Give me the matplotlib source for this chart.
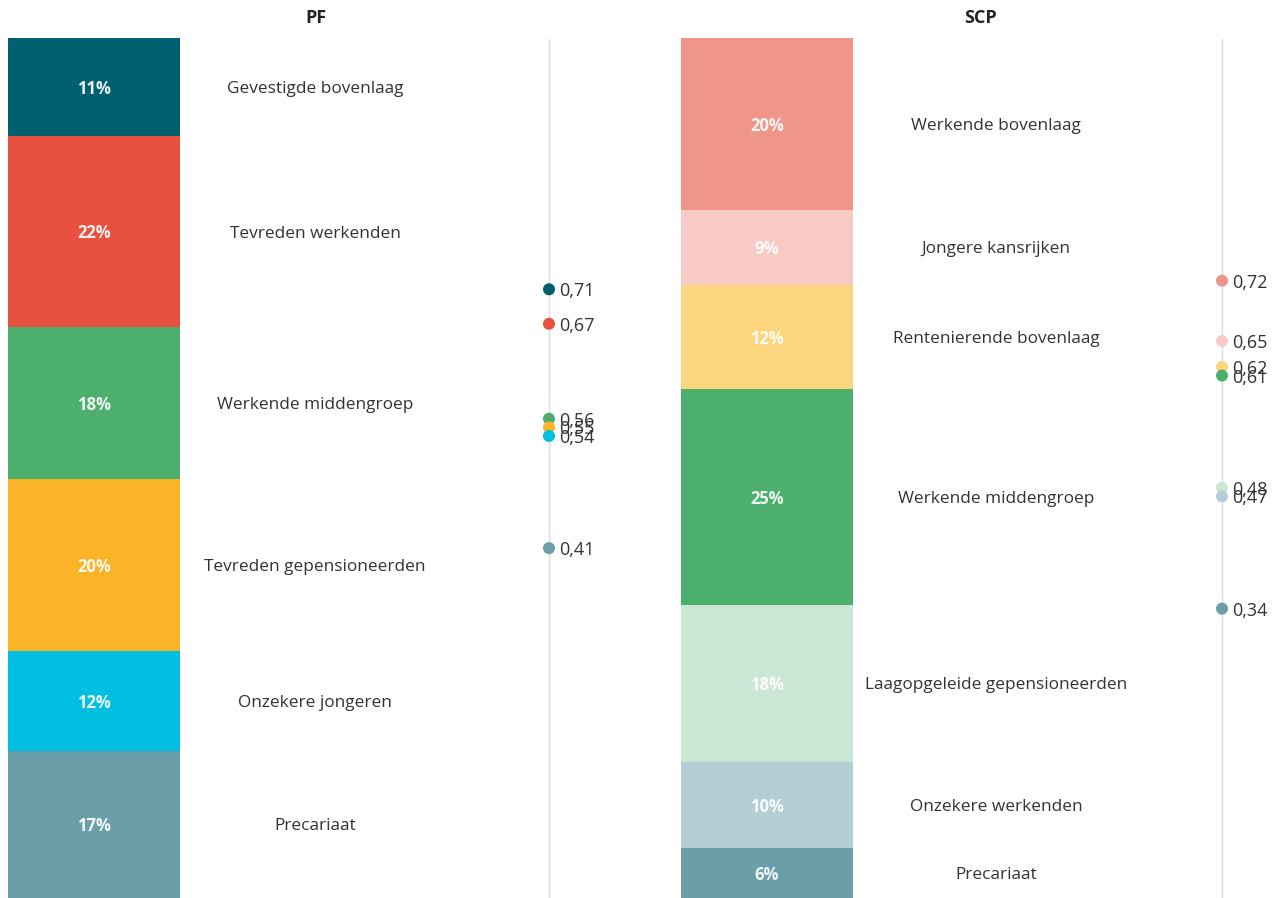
import matplotlib.pyplot as plt

plt.rcParams['font.family'] = ['Open Sans', 'DejaVu Sans']

# PF panel
pf_groups = ['Gevestigde bovenlaag', 'Tevreden werkenden', 'Werkende middengroep',
             'Tevreden gepensioneerden', 'Onzekere jongeren', 'Precariaat']
pf_share = [11.4, 22.2, 17.7, 20.0, 11.6, 17.1]
pf_score = [0.71, 0.67, 0.56, 0.55, 0.54, 0.41]
pf_colors = ['#00606f', '#e8503f', '#4caf6e', '#fbb427', '#00bfe0', '#6a9fa9']

# SCP panel
scp_groups = ['Werkende bovenlaag', 'Jongere kansrijken', 'Rentenierende bovenlaag',
              'Werkende middengroep', 'Laagopgeleide gepensioneerden',
              'Onzekere werkenden', 'Precariaat']
scp_share = [20.0, 8.7, 12.1, 25.1, 18.3, 10.0, 5.8]
scp_score = [0.72, 0.65, 0.62, 0.61, 0.48, 0.47, 0.34]
scp_colors = ['#f0958a', '#f7cac5', '#fdd57e', '#4caf6e', '#cce7d6', '#b3cfd4', '#6a9fa9']

W, H = 1279, 898
fig = plt.figure(figsize=(W / 100, H / 100), dpi=100)


def px_axes(x0, x1, y0, y1):
    return fig.add_axes([x0 / W, (H - y1) / H, (x1 - x0) / W, (y1 - y0) / H])


def panel(title, title_x, bar_x0, label_x, dot_x, groups, share, score, colors):
    ax = px_axes(bar_x0, bar_x0 + 172, 38, 898)
    ax.set_xlim(0, 1)
    ax.set_ylim(0, 100)
    top = 100
    for g, s, c in zip(groups, share, colors):
        ax.bar(0.5, s, bottom=top - s, width=1, color=c, edgecolor='none')
        yc = top - s / 2
        ax.text(0.5, yc, f'{round(s):d}%', ha='center', va='center_baseline', color='white',
                fontsize=12, fontweight='bold', alpha=0.92)
        ax.text((label_x - bar_x0) / 172, yc, g, ha='center', va='center_baseline',
                color='#333333', fontsize=12.4, clip_on=False)
        top -= s
    ax.axis('off')

    dx = px_axes(dot_x - 40, dot_x + 40, 39, 902)
    dx.set_xlim(-40, 40)
    dx.set_ylim(0, 1)
    dx.plot([0, 0], [0.004, 1], color='#dddddd', lw=1, zorder=0)
    for v, c in zip(score, colors):
        dx.scatter(0, v, s=75, color=c, zorder=3, edgecolors='none')
        dx.text(10, v, f'{v:.2f}'.replace('.', ','), ha='left', va='center_baseline',
                color='#333333', fontsize=13, clip_on=False)
    dx.axis('off')

    fig.text(title_x / W, 1 - 18 / H, title, ha='center', va='center',
             fontsize=13, fontweight='bold', color='#222222')


panel('PF', 316, 8, 315, 549, pf_groups, pf_share, pf_score, pf_colors)
panel('SCP', 980, 681, 996, 1222, scp_groups, scp_share, scp_score, scp_colors)

fig.savefig('out.png', dpi=100, facecolor='white')
